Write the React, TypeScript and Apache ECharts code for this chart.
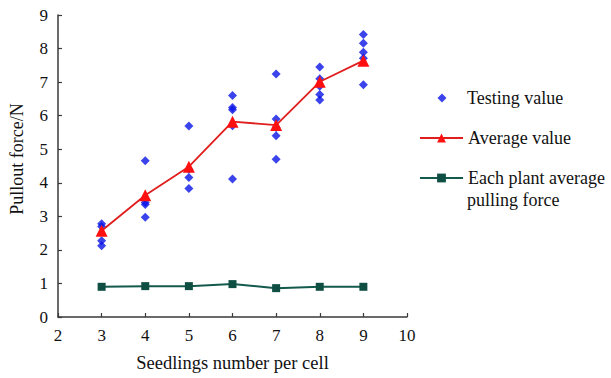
import React, { useEffect, useRef } from "react";
import * as echarts from "echarts";

const seedlings = [3, 4, 5, 6, 7, 8, 9];
const testingValues = [
  [2.78, 2.7, 2.27, 2.12],
  [4.66, 3.41, 3.35, 2.97],
  [5.69, 4.4, 4.16, 3.83],
  [6.6, 6.24, 6.18, 5.7, 4.11],
  [7.24, 5.9, 5.65, 5.4, 4.7],
  [7.45, 7.1, 6.88, 6.63, 6.47],
  [8.42, 8.16, 7.89, 7.71, 6.92],
];
const averageValues = [2.57, 3.63, 4.48, 5.82, 5.72, 7.01, 7.64];
const perPlantValues = [0.9, 0.92, 0.92, 0.98, 0.86, 0.9, 0.9];
const xTicks = { min: 2, max: 10, interval: 1 };
const yTicks = { min: 0, max: 9, interval: 1 };

const FONT = "Liberation Serif";
const TEXT = "#111";
const AXIS = "#3a3a3a";
const DIAMOND_ICON = "path://M0,4.5 M43,4.5 M23,0 L27.5,4.5 L23,9 L18.5,4.5 Z";

export default function App() {
  const ref = useRef<HTMLDivElement>(null);
  useEffect(() => {
    if (!ref.current) return;
    const chart = echarts.init(ref.current, undefined, { renderer: "svg" });
    const scatterData: number[][] = [];
    seedlings.forEach((s, i) => testingValues[i].forEach((v) => scatterData.push([s, v])));
    chart.setOption({
      animation: false,
      backgroundColor: "#fff",
      textStyle: { fontFamily: FONT, color: TEXT },
      grid: { left: 57, right: 204, top: 15, bottom: 61, containLabel: false },
      xAxis: {
        type: "value",
        min: xTicks.min,
        max: xTicks.max,
        interval: xTicks.interval,
        name: "Seedlings number per cell",
        nameLocation: "middle",
        nameGap: 36,
        nameTextStyle: { fontFamily: FONT, fontSize: 18.5, color: TEXT },
        axisLine: { lineStyle: { color: AXIS, width: 1.5 } },
        axisTick: { inside: true, length: 4, lineStyle: { color: AXIS, width: 1.2 } },
        axisLabel: { fontFamily: FONT, fontSize: 17, color: TEXT, margin: 10 },
        splitLine: { show: false },
      },
      yAxis: {
        type: "value",
        min: yTicks.min,
        max: yTicks.max,
        interval: yTicks.interval,
        name: "Pullout force/N",
        nameLocation: "middle",
        nameGap: 32,
        nameRotate: 90,
        nameTextStyle: { fontFamily: FONT, fontSize: 18, color: TEXT, padding: [0, 0, 0, 14] },
        axisLine: { show: true, lineStyle: { color: AXIS, width: 1.5 } },
        axisTick: { show: true, inside: true, length: 4, lineStyle: { color: AXIS, width: 1.2 } },
        axisLabel: { fontFamily: FONT, fontSize: 17, color: TEXT, margin: 10 },
        splitLine: { show: false },
      },
      legend: [
        {
          data: [{ name: "Testing value", icon: DIAMOND_ICON }],
          orient: "vertical",
          left: 414,
          top: 84,
          itemWidth: 43,
          itemHeight: 9,
          itemGap: 22,
          textStyle: { fontFamily: FONT, fontSize: 18, color: TEXT },
          selectedMode: false,
        },
        {
          data: ["Average value", "Each plant average pulling force"],
          orient: "vertical",
          left: 414,
          top: 124,
          itemWidth: 43,
          itemHeight: 11,
          itemGap: 22,
          textStyle: { fontFamily: FONT, fontSize: 18, color: TEXT },
          formatter: (n: string) => (n === "Each plant average pulling force" ? "Each plant average" : n),
          selectedMode: false,
        },
      ],
      graphic: [
        {
          type: "text",
          left: 467,
          top: 191,
          style: { text: "pulling force", font: `18px "${FONT}"`, fill: TEXT },
        },
      ],
      series: [
        {
          name: "Testing value",
          type: "scatter",
          symbol: "diamond",
          symbolSize: 9,
          itemStyle: { color: "#0a14e6" },
          data: scatterData,
          z: 2,
        },
        {
          name: "Average value",
          type: "line",
          symbol: "triangle",
          symbolSize: 12,
          lineStyle: { color: "#e01e1e", width: 1.8 },
          itemStyle: { color: "#ff1010" },
          data: seedlings.map((s, i) => [s, averageValues[i]]),
          z: 3,
        },
        {
          name: "Each plant average pulling force",
          type: "line",
          symbol: "rect",
          symbolSize: 8,
          lineStyle: { color: "#145a4c", width: 2 },
          itemStyle: { color: "#0f4f43" },
          data: seedlings.map((s, i) => [s, perPlantValues[i]]),
          z: 3,
        },
      ],
    });
    return () => chart.dispose();
  }, []);
  return (
    <div
      ref={ref}
      style={{ position: "fixed", left: 0, top: 0, width: 611, height: 378, background: "#fff" }}
    />
  );
}
